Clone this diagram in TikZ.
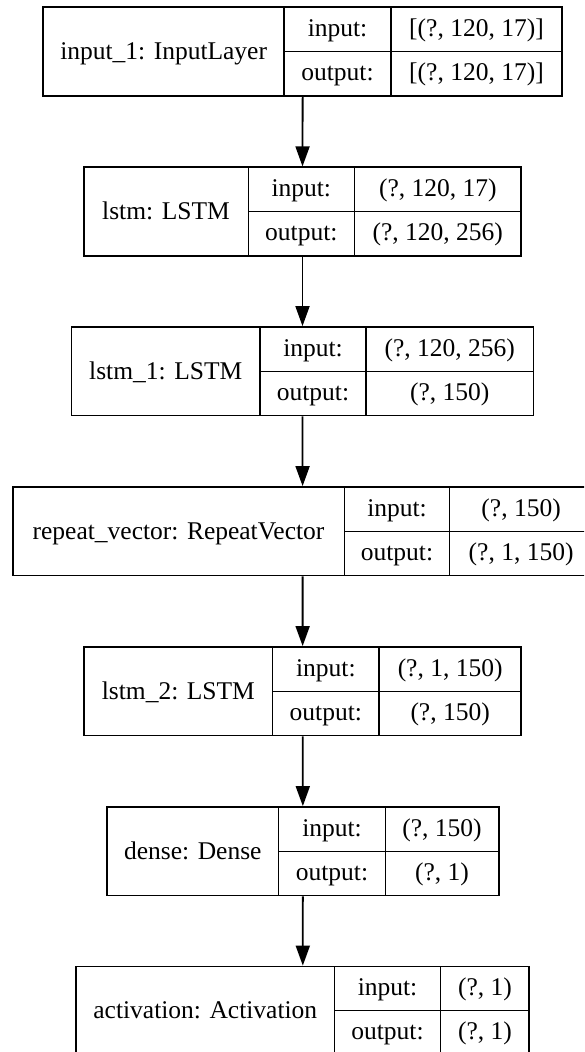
\documentclass[tikz,border=0pt]{standalone}
\usepackage{fontspec}
\setmainfont{Liberation Serif}
\usepackage{tikz}
\usetikzlibrary{arrows.meta,positioning}

\begin{document}
\begin{tikzpicture}[x=1pt,y=-1pt,every node/.style={font=\fontsize{25.5}{30}\selectfont},
  layer/.style={draw,line width=1.8pt,minimum height=88.5pt,inner sep=0pt},
  cell/.style={line width=1.4pt},
  lbl/.style={anchor=base,inner sep=0pt},
  flow/.style={-{Triangle[length=20pt,width=14pt]},line width=1.8pt}]

\useasboundingbox (0,0) rectangle (584,1052);
\clip (0,0) rectangle (584,1052);
\fill[white] (0,0) rectangle (584,1052);

% input_1
\node[layer,minimum width=518.7pt] (input1) at (302.65,51.55) {};
\draw[cell] (284,7.3) -- (284,95.8) (391,7.3) -- (391,95.8) (284,51.55) -- (562,51.55);
\node[lbl] (input1-name) at (163.65,59.5) {input\_1: InputLayer};
\node[lbl] (input1-in) at (337.5,36.4) {input:};
\node[lbl] (input1-out) at (337.5,80.7) {output:};
\node[lbl] (input1-inv) at (476.5,36.4) {[(?, 120, 17)]};
\node[lbl] (input1-outv) at (476.5,80.7) {[(?, 120, 17)]};

% lstm
\node[layer,minimum width=437.6pt] (lstm) at (302.5,211.55) {};
\draw[cell] (248.3,167.3) -- (248.3,255.8) (354.3,167.3) -- (354.3,255.8) (248.3,211.55) -- (521.3,211.55);
\node[lbl] (lstm-name) at (166,219.5) {lstm: LSTM};
\node[lbl] (lstm-in) at (301.3,196.4) {input:};
\node[lbl] (lstm-out) at (301.3,240.7) {output:};
\node[lbl] (lstm-inv) at (437.8,196.4) {(?, 120, 17)};
\node[lbl] (lstm-outv) at (437.8,240.7) {(?, 120, 256)};

% lstm_1
\node[layer,minimum width=462pt] (lstm1) at (302.5,371.25) {};
\draw[cell] (260,327) -- (260,415.5) (366,327) -- (366,415.5) (260,371.25) -- (533.5,371.25);
\node[lbl] (lstm1-name) at (165.75,379.2) {lstm\_1: LSTM};
\node[lbl] (lstm1-in) at (313,356.1) {input:};
\node[lbl] (lstm1-out) at (313,400.4) {output:};
\node[lbl] (lstm1-inv) at (449.75,356.1) {(?, 120, 256)};
\node[lbl] (lstm1-outv) at (449.75,400.4) {(?, 150)};

% repeat_vector
\node[layer,minimum width=579.8pt] (repeat) at (302.6,531.25) {};
\draw[cell] (344.3,487) -- (344.3,575.5) (449.7,487) -- (449.7,575.5) (344.3,531.25) -- (592.5,531.25);
\node[lbl] (repeat-name) at (178.5,539.2) {repeat\_vector: RepeatVector};
\node[lbl] (repeat-in) at (397,516.1) {input:};
\node[lbl] (repeat-out) at (397,560.4) {output:};
\node[lbl] (repeat-inv) at (521.1,516.1) {(?, 150)};
\node[lbl] (repeat-outv) at (521.1,560.4) {(?, 1, 150)};

% lstm_2
\node[layer,minimum width=437.3pt] (lstm2) at (302.65,691.25) {};
\draw[cell] (272.7,647) -- (272.7,735.5) (379,647) -- (379,735.5) (272.7,691.25) -- (521.3,691.25);
\node[lbl] (lstm2-name) at (178.35,699.2) {lstm\_2: LSTM};
\node[lbl] (lstm2-in) at (325.85,676.1) {input:};
\node[lbl] (lstm2-out) at (325.85,720.4) {output:};
\node[lbl] (lstm2-inv) at (450.15,676.1) {(?, 1, 150)};
\node[lbl] (lstm2-outv) at (450.15,720.4) {(?, 150)};

% dense
\node[layer,minimum width=391.7pt] (dense) at (302.85,851.25) {};
\draw[cell] (278.7,807) -- (278.7,895.5) (385.3,807) -- (385.3,895.5) (278.7,851.25) -- (498.7,851.25);
\node[lbl] (dense-name) at (192.85,859.2) {dense: Dense};
\node[lbl] (dense-in) at (332,836.1) {input:};
\node[lbl] (dense-out) at (332,880.4) {output:};
\node[lbl] (dense-inv) at (442,836.1) {(?, 150)};
\node[lbl] (dense-outv) at (442,880.4) {(?, 1)};

% activation
\node[layer,minimum width=453pt] (act) at (302.8,1010.75) {};
\draw[cell] (334.3,966.5) -- (334.3,1055) (440.7,966.5) -- (440.7,1055) (334.3,1010.75) -- (529.3,1010.75);
\node[lbl] (act-name) at (205.3,1018.7) {activation: Activation};
\node[lbl] (act-in) at (387.5,995.6) {input:};
\node[lbl] (act-out) at (387.5,1039.9) {output:};
\node[lbl] (act-inv) at (485,995.6) {(?, 1)};
\node[lbl] (act-outv) at (485,1039.9) {(?, 1)};

% Flow
\draw[flow] (input1.south) -- (lstm.north);
\draw[flow] (lstm.south) -- (lstm1.north);
\draw[flow] (lstm1.south) -- (repeat.north);
\draw[flow] (repeat.south) -- (lstm2.north);
\draw[flow] (lstm2.south) -- (dense.north);
\draw[flow] (dense.south) -- (act.north);

\end{tikzpicture}
\end{document}
